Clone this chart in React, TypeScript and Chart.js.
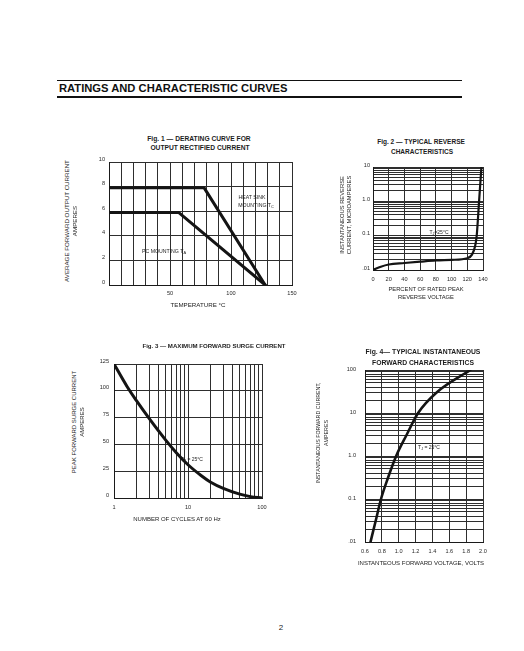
import React, { useEffect, useRef } from 'react';
import { Chart, registerables } from 'chart.js';

Chart.register(...registerables);

const FONT = '"Liberation Sans", Arial, Helvetica, sans-serif';

// ---------- Fig. 1 data ----------
const fig1HeatSinkTemp = [0, 78, 128];
const fig1HeatSinkAmps = [7.9, 7.9, 0];
const fig1PcTemp = [0, 57, 128];
const fig1PcAmps = [5.9, 5.9, 0];
const fig1XLabels = ['50', '100', '150'];
const fig1YLabels = ['0', '2', '4', '6', '8', '10'];

// ---------- Fig. 2 data ----------
const fig2Percent = [0, 10, 20, 40, 60, 80, 100, 120, 126, 130, 132, 135, 138];
const fig2Current = [0.01, 0.0125, 0.0145, 0.016, 0.0175, 0.019, 0.0197, 0.022, 0.028, 0.05, 0.1, 1.0, 10];
const fig2XLabels = ['0', '20', '40', '60', '80', '100', '120', '140'];
const fig2YLabels = ['.01', '0.1', '1.0', '10'];

// ---------- Fig. 3 data ----------
const fig3Cycles = [1, 1.5, 2, 3, 5, 7, 10, 15, 20, 30, 50, 70, 100];
const fig3Amps = [125, 104, 91, 74, 54, 42, 31, 21, 15, 9, 3.6, 1.3, 0];
const fig3XLabels = ['1', '10', '100'];
const fig3YLabels = ['0', '25', '50', '75', '100', '125'];

// ---------- Fig. 4 data ----------
const fig4Volts = [0.665, 0.725, 0.79, 0.87, 0.97, 1.09, 1.23, 1.45, 1.85];
const fig4Amps = [0.01, 0.03, 0.1, 0.3, 1, 3, 10, 30, 100];
const fig4XLabels = ['0.6', '0.8', '1.0', '1.2', '1.4', '1.6', '1.8', '2.0'];
const fig4YLabels = ['.01', '0.1', '1.0', '10', '100'];

// ---------- helpers ----------
type Rect = { l: number; t: number; r: number; b: number };
const YW = 34;
const TP = 6;
const RP = 14;
const XH = 22;

function linGrid(min: number, max: number, step: number): number[] {
  const out: number[] = [];
  const n = Math.round((max - min) / step);
  for (let i = 0; i <= n; i++) out.push(+(min + i * step).toFixed(6));
  return out;
}

function logGrid(min: number, max: number): number[] {
  const out: number[] = [];
  const d0 = Math.round(Math.log10(min));
  const d1 = Math.round(Math.log10(max));
  for (let d = d0; d < d1; d++) {
    for (let k = 1; k <= 9; k++) out.push(+(k * Math.pow(10, d)).toPrecision(6));
  }
  out.push(max);
  return out;
}

function labelFor(v: number, labels: string[]): string {
  for (const l of labels) {
    const n = Number(l);
    if (Math.abs(n - v) <= Math.abs(n) * 1e-6 + 1e-9) return l;
  }
  return '';
}

function makeScale(
  kind: 'x' | 'y',
  type: 'linear' | 'logarithmic',
  min: number,
  max: number,
  gridVals: number[],
  labels: string[],
  pad: number,
  labelOffset: number
) {
  return {
    type,
    min,
    max,
    position: kind === 'x' ? 'bottom' : 'left',
    afterBuildTicks: (s: any) => {
      s.ticks = gridVals.map((v) => ({ value: v }));
    },
    afterFit: (s: any) => {
      if (kind === 'x') s.height = XH;
      else s.width = YW;
      s.paddingLeft = 0;
      s.paddingRight = 0;
      s.paddingTop = 0;
      s.paddingBottom = 0;
    },
    grid: { color: '#2e2e2e', lineWidth: 1, drawTicks: false },
    border: { color: '#1a1a1a', width: 1 },
    ticks: {
      autoSkip: false,
      maxRotation: 0,
      minRotation: 0,
      padding: pad,
      labelOffset,
      color: '#2a2a2a',
      font: { family: FONT, size: 5.6 },
      callback: (v: any) => labelFor(Number(v), labels),
    },
  };
}

function lineSet(xs: number[], ys: number[], width: number, smooth: boolean) {
  return {
    data: xs.map((x, i) => ({ x, y: ys[i] })),
    borderColor: '#141414',
    borderWidth: width,
    pointRadius: 0,
    fill: false,
    tension: 0,
    borderCapStyle: 'round',
    borderJoinStyle: 'round',
    cubicInterpolationMode: smooth ? 'monotone' : 'default',
  };
}

function baseOptions(scales: any) {
  return {
    responsive: false,
    maintainAspectRatio: false,
    animation: false,
    devicePixelRatio: 1,
    layout: { padding: { left: 0, top: TP, right: RP, bottom: 0 } },
    plugins: { legend: { display: false }, tooltip: { enabled: false }, title: { display: false } },
    events: [],
    scales,
  };
}

function ChartBox({ rect, config }: { rect: Rect; config: () => any }) {
  const ref = useRef<HTMLCanvasElement>(null);
  useEffect(() => {
    const c = new Chart(ref.current as HTMLCanvasElement, config());
    return () => c.destroy();
  }, []);
  const w = rect.r - rect.l + YW + RP;
  const h = rect.b - rect.t + TP + XH;
  return (
    <canvas
      ref={ref}
      width={w}
      height={h}
      style={{ position: 'absolute', left: rect.l - YW, top: rect.t - TP, width: w, height: h }}
    />
  );
}

function T({
  x,
  y,
  s = 5.2,
  b = false,
  rot = false,
  children,
}: {
  x: number;
  y: number;
  s?: number;
  b?: boolean;
  rot?: boolean;
  children: any;
}) {
  return (
    <div
      style={{
        position: 'absolute',
        left: x,
        top: y,
        fontFamily: FONT,
        fontSize: s,
        fontWeight: b ? 700 : 400,
        color: '#1c1c1c',
        whiteSpace: 'nowrap',
        lineHeight: 1,
        transform: `translate(-50%,-50%)${rot ? ' rotate(-90deg)' : ''}`,
      }}
    >
      {children}
    </div>
  );
}

const subStyle: any = { fontSize: '0.75em', verticalAlign: '-0.3em' };

// ---------- figure configs ----------
const fig1Rect: Rect = { l: 109, t: 162, r: 292, b: 285 };
const fig2Rect: Rect = { l: 373, t: 167, r: 483, b: 270 };
const fig3Rect: Rect = { l: 114, t: 364, r: 262, b: 498 };
const fig4Rect: Rect = { l: 365, t: 370, r: 483, b: 542 };

const fig1Config = () => ({
  type: 'line',
  data: {
    datasets: [
      lineSet(fig1HeatSinkTemp, fig1HeatSinkAmps, 3, false),
      lineSet(fig1PcTemp, fig1PcAmps, 3, false),
    ],
  },
  options: baseOptions({
    x: makeScale('x', 'linear', 0, 150, linGrid(0, 150, 10), fig1XLabels, 5, 0),
    y: makeScale('y', 'linear', 0, 10, linGrid(0, 10, 2), fig1YLabels, 4, -3),
  }),
});

const fig2Config = () => ({
  type: 'line',
  data: { datasets: [lineSet(fig2Percent, fig2Current, 2.2, true)] },
  options: baseOptions({
    x: makeScale('x', 'linear', 0, 140, linGrid(0, 140, 20), fig2XLabels, 6, 0),
    y: makeScale('y', 'logarithmic', 0.01, 10, logGrid(0.01, 10), fig2YLabels, 3, -2),
  }),
});

const fig3Config = () => ({
  type: 'line',
  data: { datasets: [lineSet(fig3Cycles, fig3Amps, 3, true)] },
  options: baseOptions({
    x: makeScale('x', 'logarithmic', 1, 100, logGrid(1, 100), fig3XLabels, 6, 0),
    y: makeScale('y', 'linear', 0, 125, linGrid(0, 125, 25), fig3YLabels, 5, -3),
  }),
});

const fig4Config = () => ({
  type: 'line',
  data: { datasets: [lineSet(fig4Volts, fig4Amps, 2.6, true)] },
  options: baseOptions({
    x: makeScale('x', 'linear', 0.6, 2.0, linGrid(0.6, 2.0, 0.2), fig4XLabels, 6, 0),
    y: makeScale('y', 'logarithmic', 0.01, 100, logGrid(0.01, 100), fig4YLabels, 9, -1),
  }),
});

export default function App() {
  return (
    <div
      style={{
        position: 'absolute',
        left: 0,
        top: 0,
        width: 524,
        height: 651,
        overflow: 'hidden',
        background: '#fff',
      }}
    >
      {/* header */}
      <div style={{ position: 'absolute', left: 57, top: 80, width: 405, height: 1, background: '#111' }} />
      <div
        style={{
          position: 'absolute',
          left: 59,
          top: 88.5,
          transform: 'translateY(-50%)',
          fontFamily: FONT,
          fontWeight: 700,
          fontSize: 11.2,
          lineHeight: 1,
          color: '#111',
          whiteSpace: 'nowrap',
        }}
      >
        RATINGS AND CHARACTERISTIC CURVES
      </div>
      <div style={{ position: 'absolute', left: 57, top: 95.5, width: 405, height: 2.5, background: '#111' }} />

      {/* Fig 1 */}
      <ChartBox rect={fig1Rect} config={fig1Config} />
      <T x={199} y={139} s={6.7} b>
        Fig. 1 — DERATING CURVE FOR
      </T>
      <T x={200} y={148} s={6.7} b>
        OUTPUT RECTIFIED CURRENT
      </T>
      <T x={67} y={221} s={6.2} rot>
        AVERAGE FORWARD OUTPUT CURRENT
      </T>
      <T x={75} y={221} s={6.2} rot>
        AMPERES
      </T>
      <T x={198} y={305} s={6.2}>
        TEMPERATURE °C
      </T>
      <T x={252} y={198} s={5.2}>
        HEAT SINK
      </T>
      <T x={256} y={206} s={5.2}>
        MOUNTING T<span style={subStyle}>C</span>
      </T>
      <T x={164} y={252} s={5.2}>
        PC MOUNTING T<span style={subStyle}>A</span>
      </T>

      {/* Fig 2 */}
      <ChartBox rect={fig2Rect} config={fig2Config} />
      <T x={421} y={142} s={6.5} b>
        Fig. 2 — TYPICAL REVERSE
      </T>
      <T x={422} y={152} s={6.5} b>
        CHARACTERISTICS
      </T>
      <T x={343} y={215} s={5.8} rot>
        INSTANTANEOUS REVERSE
      </T>
      <T x={350} y={215} s={5.8} rot>
        CURRENT, MICROAMPERES
      </T>
      <T x={426} y={290} s={5.8}>
        PERCENT OF RATED PEAK
      </T>
      <T x={426} y={298} s={5.8}>
        REVERSE VOLTAGE
      </T>
      <T x={439} y={233} s={5}>
        T<span style={subStyle}>J</span>=25°C
      </T>

      {/* Fig 3 */}
      <ChartBox rect={fig3Rect} config={fig3Config} />
      <T x={214} y={346} s={6.1} b>
        Fig. 3 — MAXIMUM FORWARD SURGE CURRENT
      </T>
      <T x={74} y={422} s={6} rot>
        PEAK FORWARD SURGE CURRENT
      </T>
      <T x={82} y={422} s={6} rot>
        AMPERES
      </T>
      <T x={177} y={519} s={6}>
        NUMBER OF CYCLES AT 60 Hz
      </T>
      <T x={192} y={460} s={5}>
        T<span style={subStyle}>J</span> = 25°C
      </T>

      {/* Fig 4 */}
      <ChartBox rect={fig4Rect} config={fig4Config} />
      <T x={423} y={352} s={6.8} b>
        Fig. 4— TYPICAL INSTANTANEOUS
      </T>
      <T x={423} y={363} s={6.8} b>
        FORWARD CHARACTERISTICS
      </T>
      <T x={319} y={433} s={5.3} rot>
        INSTANTANEOUS FORWARD CURRENT,
      </T>
      <T x={327} y={433} s={5.3} rot>
        AMPERES
      </T>
      <T x={421} y={563} s={6}>
        INSTANTEOUS FORWARD VOLTAGE, VOLTS
      </T>
      <T x={429} y={448} s={5}>
        T<span style={subStyle}>J</span> = 25°C
      </T>

      {/* page number */}
      <T x={281} y={628} s={8}>
        2
      </T>
    </div>
  );
}
